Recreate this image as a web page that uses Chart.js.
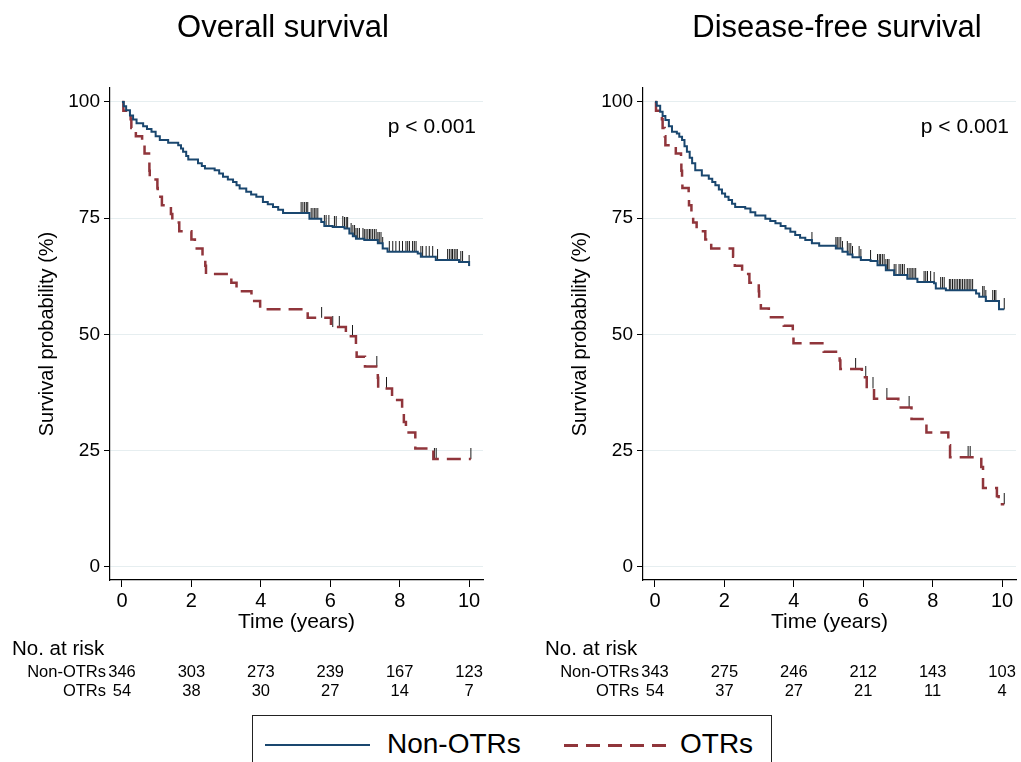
<!DOCTYPE html>
<html>
<head>
<meta charset="utf-8">
<script src="https://cdn.jsdelivr.net/npm/chart.js@4.4.1/dist/chart.umd.min.js"></script>
<style>
  body { margin: 0; background: #fff; width: 1021px; height: 762px; overflow: hidden; position: relative;
         font-family: "Liberation Sans", Arial, sans-serif; }
  .panel { position: absolute; top: 0; }
  #legend { position: absolute; left: 252px; top: 715px; width: 520px; height: 60px;
            border: 1.5px solid #222; box-sizing: border-box; }
  #legend .sw { position: absolute; top: 28px; height: 2px; }
  #legend .dash { height: 2.5px;
            background: repeating-linear-gradient(to right, #90353b 0 14px, transparent 14px 22px); }
  #legend .lab { position: absolute; top: 12px; font-size: 28px; line-height: 32px; color: #000; }
</style>
</head>
<body>
<canvas id="os" class="panel" style="left:0" width="488" height="712"></canvas>
<canvas id="dfs" class="panel" style="left:533px" width="488" height="712"></canvas>
<div id="legend">
  <span class="sw" style="left:12px;width:105px;background:#1a476f"></span>
  <span class="lab" id="lab0" style="left:134px"></span>
  <span class="sw dash" style="left:311px;width:106px"></span>
  <span class="lab" id="lab1" style="left:427px"></span>
</div>
<script>
const FONT = '"Liberation Sans", Arial, sans-serif';
const seriesNames = ['Non-OTRs', 'OTRs'];
const xTicks = [0, 2, 4, 6, 8, 10];
const yTicks = [0, 25, 50, 75, 100];
const riskTimes = [0, 2, 4, 6, 8, 10];

// Overall survival, Kaplan-Meier steps (years, %)
const osNonT = [0,0.05,0.12,0.23,0.32,0.42,0.61,0.72,0.85,0.97,1.09,1.33,1.62,1.70,1.76,1.85,1.91,2.19,2.30,2.39,
  2.67,2.80,2.91,3.05,3.20,3.30,3.39,3.58,3.72,3.87,4.06,4.20,4.35,4.50,4.64,5.40,5.74,5.83,6.07,6.41,6.55,
  6.65,6.74,6.98,7.37,7.51,7.65,8.52,8.61,9.04,9.71,10.00];
const osNonS = [100,99.1,98.2,97.1,96.2,95.4,94.8,94.2,93.6,92.6,91.8,91.2,90.7,90.0,89.3,88.4,87.6,86.8,86.2,85.7,
  85.3,84.6,83.9,83.3,82.8,82.1,81.4,80.7,80.1,79.6,78.5,78.0,77.4,76.8,76.1,74.9,74.2,73.3,73.1,72.8,71.7,
  71.1,70.6,70.3,69.6,68.5,67.8,67.4,66.7,66.0,65.6,64.7];
const osNonCens = [5.16,5.21,5.26,5.31,5.35,5.45,5.50,5.55,5.59,5.64,5.83,5.88,5.96,6.12,6.17,6.36,6.41,6.46,6.50,
  6.60,6.65,6.70,6.74,6.79,6.84,6.94,6.98,7.03,7.08,7.13,7.17,7.22,7.27,7.32,7.37,7.41,7.46,7.51,7.70,7.80,
  7.89,7.99,8.08,8.18,8.23,8.28,8.37,8.42,8.47,8.61,8.66,8.76,8.85,8.95,9.09,9.38,9.43,9.48,9.52,9.57,9.62,
  9.66,9.76,9.81,10.0];
const osOtrT = [0,0.04,0.25,0.27,0.40,0.58,0.65,0.78,0.79,0.80,1.02,1.03,1.15,1.41,1.45,1.65,2.00,2.10,2.32,2.40,
  2.42,3.15,3.30,3.73,3.98,5.35,6.02,6.45,6.74,6.76,7.00,7.37,7.38,7.78,8.07,8.12,8.18,8.45,8.97,10.05];
const osOtrS = [100,98.1,96.3,94.4,92.6,90.7,88.9,87.0,85.2,83.3,81.5,79.6,77.8,75.9,74.1,72.2,70.4,68.5,66.7,64.8,
  63.0,61.1,59.3,57.2,55.4,53.6,51.6,49.6,47.4,45.2,43.1,40.7,38.4,35.9,33.4,31.2,28.9,25.5,23.2,23.2];
const osOtrCens = [5.75,6.07,6.26,6.64,7.34,7.62,9.0,9.05,10.05];
const osRiskNon = [346, 303, 273, 239, 167, 123];
const osRiskOtr = [54, 38, 30, 27, 14, 7];

// Disease-free survival
const dfsNonT = [0,0.05,0.15,0.22,0.30,0.40,0.49,0.63,0.70,0.78,0.85,0.92,1.00,1.07,1.16,1.35,1.55,1.65,1.74,1.84,
  1.93,2.02,2.12,2.22,2.31,2.60,2.75,2.89,3.18,3.32,3.47,3.62,3.76,3.90,4.04,4.18,4.33,4.52,4.73,5.21,5.40,
  5.55,5.69,5.93,6.21,6.41,6.65,6.89,7.27,7.56,8.04,8.09,8.38,9.25,9.34,9.53,9.91,10.06];
const dfsNonS = [100,99.2,97.9,97.0,96.1,94.8,93.6,93.2,92.5,91.8,90.5,89.3,88.0,86.8,85.3,84.2,83.5,82.8,82.1,81.2,
  80.3,79.6,78.9,78.1,77.4,77.1,76.3,75.6,74.9,74.4,73.9,73.3,72.8,72.1,71.4,70.8,70.3,69.6,69.1,68.5,67.8,
  67.2,66.6,66.0,65.8,64.9,63.8,62.8,62.0,61.3,61.0,59.9,59.5,58.8,58.1,57.2,55.4,55.4];
const dfsNonCens = [4.52,5.21,5.25,5.30,5.35,5.40,5.54,5.59,5.64,5.69,5.88,5.93,6.21,6.41,6.46,6.50,6.55,6.60,6.65,
  6.70,6.74,6.89,6.94,7.03,7.08,7.13,7.18,7.27,7.32,7.37,7.41,7.46,7.51,7.75,7.80,7.85,7.94,8.04,8.23,8.28,
  8.33,8.48,8.52,8.57,8.62,8.67,8.72,8.77,8.81,8.86,8.91,8.96,9.01,9.05,9.10,9.15,9.44,9.48,9.53,9.73,9.78,
  9.82,10.06];
const dfsOtrT = [0,0.03,0.20,0.22,0.28,0.30,0.60,0.75,0.76,0.78,0.79,0.97,0.98,1.05,1.10,1.20,1.45,1.62,2.25,2.30,
  2.51,2.72,2.99,3.00,3.05,3.28,3.71,3.97,3.99,4.86,5.32,5.34,5.96,6.10,6.31,7.01,7.39,7.82,8.45,8.50,9.40,
  9.45,9.85,9.90,10.06];
const dfsOtrS = [100,98.1,96.3,94.4,92.6,90.7,88.9,87.0,85.2,83.3,81.5,79.6,77.8,75.9,74.1,72.2,70.4,68.5,66.7,64.8,
  63.0,61.1,59.3,57.4,55.6,53.7,51.9,50.0,48.1,46.3,44.4,42.6,40.8,38.4,36.2,34.3,31.8,28.9,26.2,23.6,21.5,
  17.0,15.2,13.5,13.5];
const dfsOtrCens = [5.78,6.07,6.28,6.68,7.32,9.02,9.08,10.06];
const dfsRiskNon = [343, 275, 246, 212, 143, 103];
const dfsRiskOtr = [54, 37, 27, 21, 11, 4];

document.getElementById('lab0').textContent = seriesNames[0];
document.getElementById('lab1').textContent = seriesNames[1];

// censoring mark: short vertical tick rising from the curve
const tickImg = document.createElement('canvas');
tickImg.width = 3; tickImg.height = 22;
const tc = tickImg.getContext('2d');
tc.fillStyle = '#1a1a1a';
tc.fillRect(1, 0, 1, 11);

function steps(T, S) { return T.map((t, i) => ({x: t, y: S[i]})); }
function survivalAt(T, S, t) {
  let v = S[0];
  for (let i = 0; i < T.length; i++) if (T[i] <= t) v = S[i];
  return v;
}
function censors(T, S, C) { return C.map(t => ({x: t, y: survivalAt(T, S, t)})); }

const riskTable = {
  id: 'riskTable',
  afterDraw(chart, args, opts) {
    const {ctx, chartArea} = chart;
    const x = chart.scales.x;
    ctx.save();
    ctx.fillStyle = '#000';
    ctx.textBaseline = 'middle';
    ctx.font = '31px ' + FONT;
    ctx.textAlign = 'center';
    ctx.fillText(opts.title, opts.titleX, 28);
    ctx.font = '21px ' + FONT;
    ctx.textAlign = 'right';
    ctx.fillText('p < 0.001', chartArea.right - 7, chartArea.top + 39);
    ctx.font = '20.5px ' + FONT;
    ctx.textAlign = 'left';
    ctx.fillText('No. at risk', chartArea.left - 98, 649);
    ctx.font = '16.5px ' + FONT;
    opts.rows.forEach((counts, i) => {
      const y = 672 + i * 19;
      ctx.textAlign = 'right';
      ctx.fillText(seriesNames[i], chartArea.left - 4, y);
      ctx.textAlign = 'center';
      counts.forEach((n, j) => ctx.fillText(String(n), x.getPixelForValue(riskTimes[j]), y));
    });
    ctx.restore();
  }
};

function makeChart(id, title, titleX, nonT, nonS, nonC, otrT, otrS, otrC, riskNon, riskOtr) {
  new Chart(document.getElementById(id), {
    type: 'line',
    data: {
      datasets: [
        {label: seriesNames[0], data: steps(nonT, nonS), stepped: true, borderColor: '#1a476f',
         borderWidth: 2, pointRadius: 0, fill: false},
        {label: seriesNames[1], data: steps(otrT, otrS), stepped: true, borderColor: '#90353b',
         borderWidth: 2.5, borderDash: [14, 8], pointRadius: 0, fill: false},
        {data: censors(nonT, nonS, nonC), showLine: false, pointStyle: tickImg, pointRadius: 3},
        {data: censors(otrT, otrS, otrC), showLine: false, pointStyle: tickImg, pointRadius: 3}
      ]
    },
    options: {
      responsive: false,
      animation: false,
      layout: {padding: {left: 0, top: 88, right: 4, bottom: 72}},
      plugins: {
        legend: {display: false},
        tooltip: {enabled: false},
        riskTable: {title: title, titleX: titleX, rows: [riskNon, riskOtr]}
      },
      scales: {
        x: {
          type: 'linear', min: -0.345, max: 10.4,
          afterBuildTicks: s => { s.ticks = xTicks.map(v => ({value: v})); },
          afterFit: s => { s.height = 60; },
          border: {display: true, color: '#000', width: 1.2},
          grid: {drawOnChartArea: false, drawTicks: true, tickLength: 7, tickColor: '#000'},
          ticks: {font: {family: FONT, size: 20}, color: '#000', padding: 2, maxRotation: 0},
          title: {display: true, text: 'Time (years)', font: {family: FONT, size: 21}, color: '#000',
                  padding: {top: 0, bottom: 5}}
        },
        y: {
          type: 'linear', min: -2.8, max: 103,
          afterBuildTicks: s => { s.ticks = yTicks.map(v => ({value: v})); },
          afterFit: s => { s.width = 110; },
          border: {display: true, color: '#000', width: 1.2},
          grid: {color: '#e6eef0', lineWidth: 1, tickLength: 6, tickColor: '#000'},
          ticks: {font: {family: FONT, size: 19}, color: '#000', padding: 4},
          title: {display: true, text: 'Survival probability (%)', font: {family: FONT, size: 20}, color: '#000',
                  padding: {top: 35, bottom: 0}}
        }
      }
    },
    plugins: [riskTable]
  });
}

makeChart('os', 'Overall survival', 283, osNonT, osNonS, osNonCens, osOtrT, osOtrS, osOtrCens, osRiskNon, osRiskOtr);
makeChart('dfs', 'Disease-free survival', 304, dfsNonT, dfsNonS, dfsNonCens, dfsOtrT, dfsOtrS, dfsOtrCens, dfsRiskNon, dfsRiskOtr);
</script>
</body>
</html>
